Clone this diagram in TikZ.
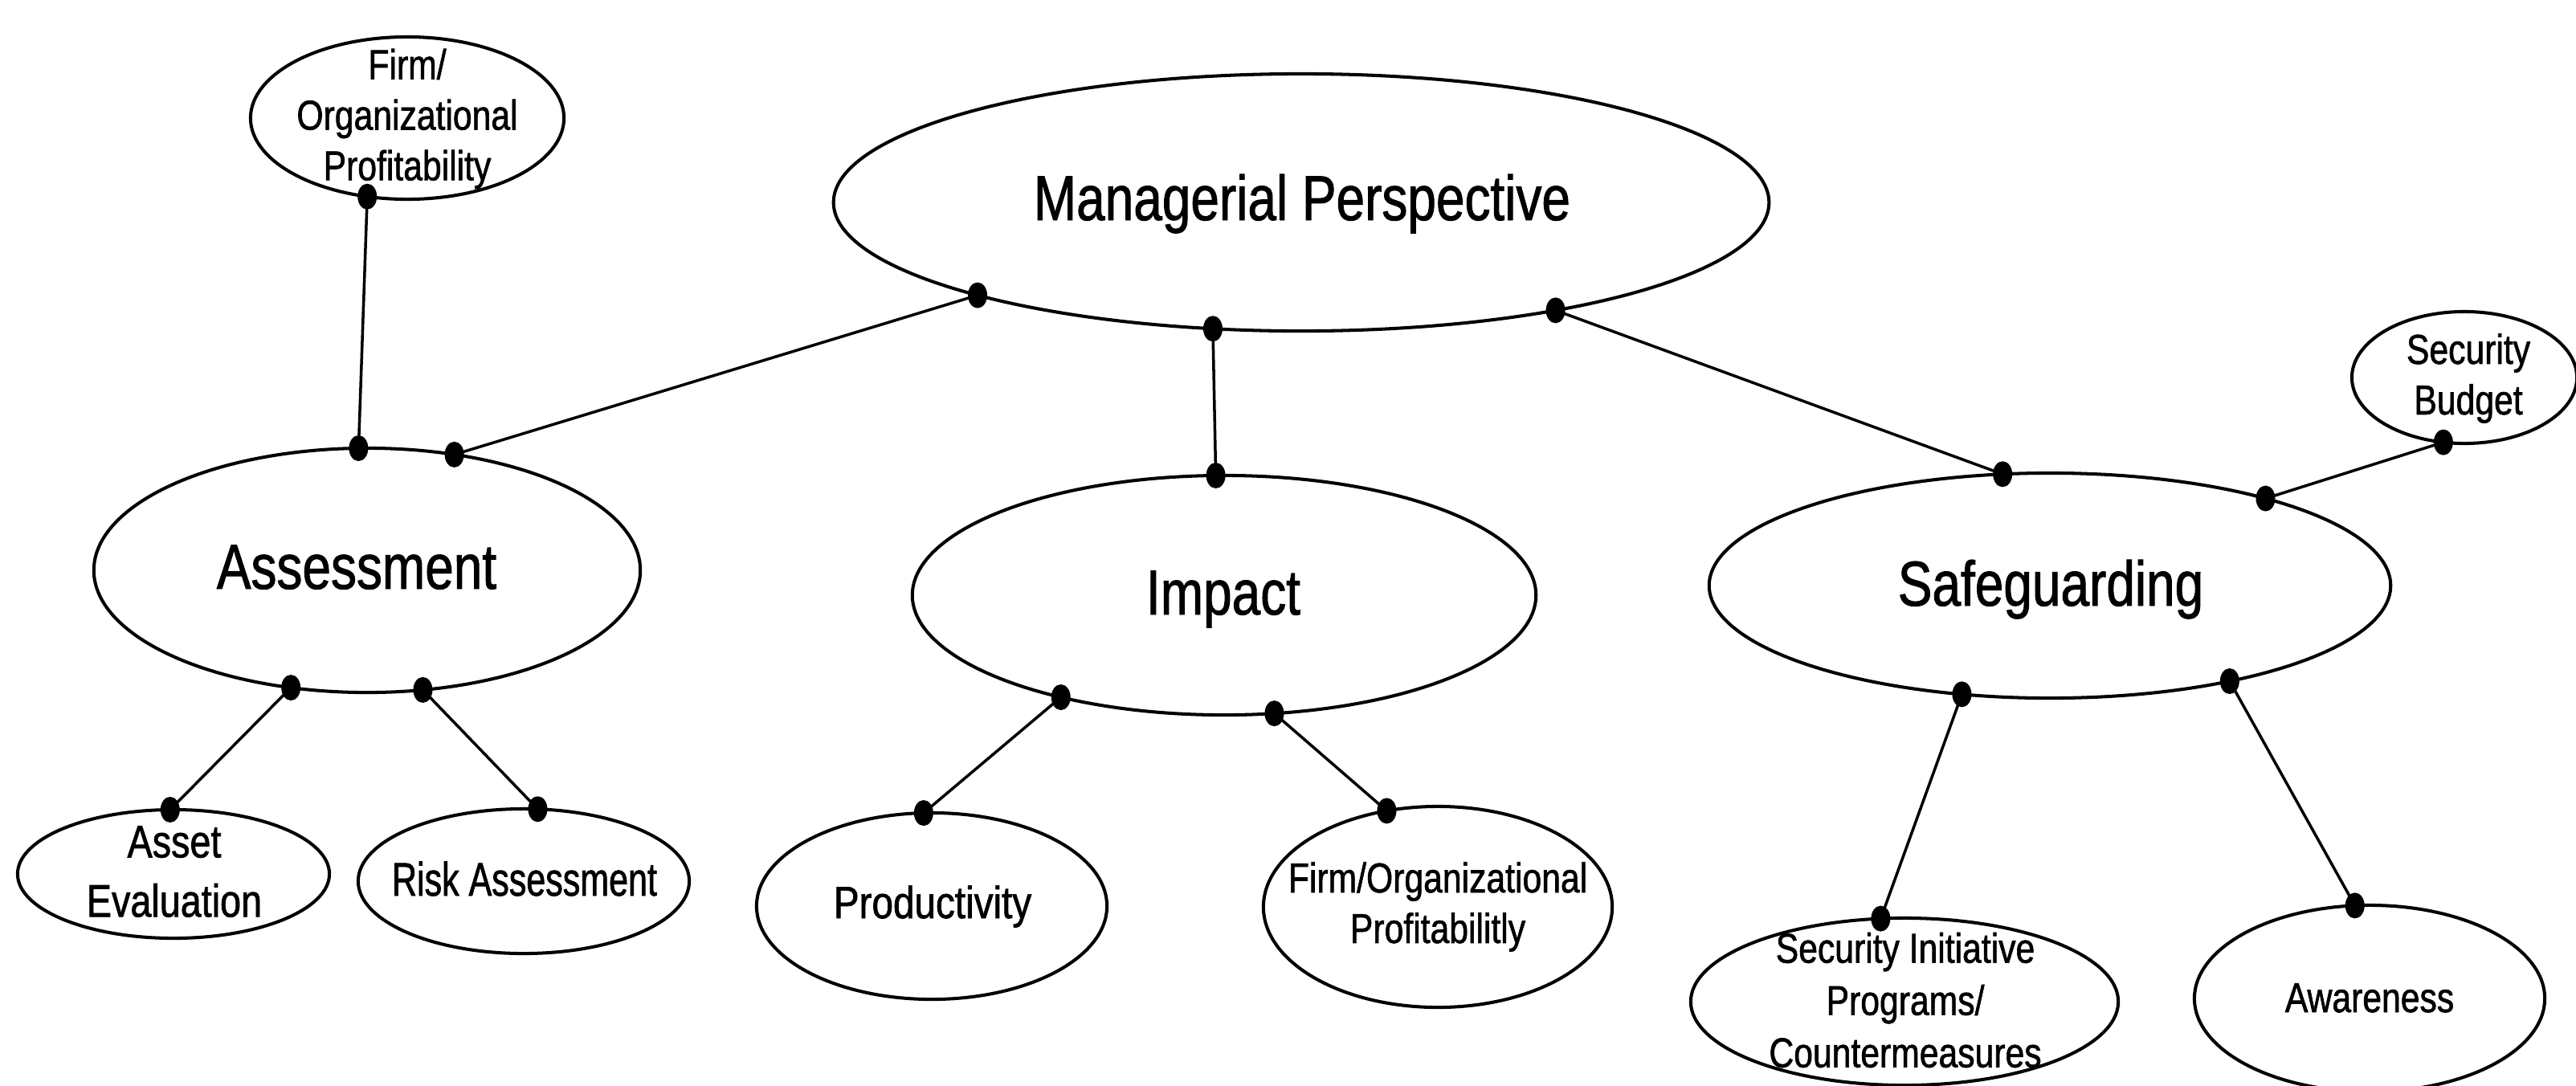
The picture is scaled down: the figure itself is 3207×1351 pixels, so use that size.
\documentclass[tikz,border=0pt]{standalone}
\usepackage{fontspec}
\setmainfont{Liberation Sans}[FakeStretch=0.82]
% narrow sans faces at the widths used by the labels
\newfontfamily\narrowA{Liberation Sans}[FakeStretch=0.81, FakeBold=1.2]
\newfontfamily\narrowB{Liberation Sans}[FakeStretch=0.82, FakeBold=1.2]
\newfontfamily\narrowC{Liberation Sans}[FakeStretch=0.735, FakeBold=1.2]
\newfontfamily\narrowD{Liberation Sans}[FakeStretch=0.85, FakeBold=1.2]
\usetikzlibrary{shapes.geometric}
\begin{document}
\begin{tikzpicture}[x=0.01cm,y=-0.01cm,
  bubble/.style={draw, ellipse, line width=1.15pt, inner sep=0pt, outer sep=0pt},
  dot/.style={fill, ellipse, inner sep=0pt, outer sep=0pt, minimum width=0.24cm, minimum height=0.32cm},
  link/.style={line width=1.0pt},
  bigtxt/.style={font=\narrowA\fontsize{22.45pt}{26pt}\selectfont, inner sep=0pt, anchor=base},
  smalltxt/.style={font=\narrowB\fontsize{14.8pt}{17.9pt}\selectfont, align=center, inner sep=0pt},
  sectxt/.style={font=\narrowB\fontsize{14.8pt}{18.5pt}\selectfont, align=center, inner sep=0pt},
  risktxt/.style={font=\narrowC\fontsize{16.65pt}{20pt}\selectfont, inner sep=0pt, anchor=base},
  prodtxt/.style={font=\narrowD\fontsize{15.95pt}{20pt}\selectfont, inner sep=0pt, anchor=base},
  assettxt/.style={font=\narrowB\fontsize{16.2pt}{21.0pt}\selectfont, align=center, inner sep=0pt}]
\useasboundingbox (0,0) rectangle (3207,1351);

% concept bubbles
\node[bubble, minimum width=11.64cm, minimum height=3.20cm] (mp) at (1620,252) {};
\node[bubble, minimum width=3.90cm, minimum height=2.02cm] (fo) at (507,147) {};
\node[bubble, minimum width=6.80cm, minimum height=3.04cm] (as) at (457,710) {};
\node[bubble, minimum width=7.76cm, minimum height=2.98cm] (im) at (1524,741) {};
\node[bubble, minimum width=8.48cm, minimum height=2.80cm] (sg) at (2552,729) {};
\node[bubble, minimum width=2.80cm, minimum height=1.64cm] (sb) at (3068,470) {};
\node[bubble, minimum width=3.88cm, minimum height=1.60cm] (ae) at (216,1088) {};
\node[bubble, minimum width=4.12cm, minimum height=1.80cm] (ra) at (652,1097) {};
\node[bubble, minimum width=4.36cm, minimum height=2.32cm] (pr) at (1160,1128) {};
\node[bubble, minimum width=4.34cm, minimum height=2.50cm] (fp) at (1790,1129) {};
\node[bubble, minimum width=5.32cm, minimum height=2.08cm] (si) at (2371,1247) {};
\node[bubble, minimum width=4.36cm, minimum height=2.32cm] (aw) at (2950,1243) {};

% labels
\node[bigtxt] (mp-t) at (1621,274) {Managerial Perspective};
\node[bigtxt] (as-t) at (444,733) {Assessment};
\node[bigtxt] (im-t) at (1523,765) {Impact};
\node[bigtxt] (sg-t) at (2553,754) {Safeguarding};
\node[smalltxt] (fo-t) at (507,148) {Firm/\\Organizational\\Profitability};
\node[smalltxt] (sb-t) at (3073,471) {Security\\Budget};
\node[assettxt] (ae-t) at (217,1085) {Asset\\Evaluation};
\node[risktxt] (ra-t) at (653,1115) {Risk Assessment};
\node[prodtxt] (pr-t) at (1161,1143) {Productivity};
\node[smalltxt] (fp-t) at (1790,1129) {Firm/Organizational\\Profitabilitly};
\node[sectxt] (si-t) at (2372,1245) {Security Initiative\\Programs/\\Countermeasures};
\node[smalltxt, anchor=base] (aw-t) at (2950,1260) {Awareness};

% connection points on the bubble borders
\node[dot] (fo-d) at (fo.243.9) {};
\node[dot] (as-a) at (as.94.1) {};
\node[dot] (as-b) at (as.53.1) {};
\node[dot] (as-c) at (as.237.3) {};
\node[dot] (as-d) at (as.295) {};
\node[dot] (mp-a) at (mp.196.4) {};
\node[dot] (mp-b) at (mp.235.6) {};
\node[dot] (mp-c) at (mp.337.4) {};
\node[dot] (im-a) at (im.94.5) {};
\node[dot] (im-b) at (im.212.2) {};
\node[dot] (im-c) at (im.293.8) {};
\node[dot] (sg-a) at (sg.113.5) {};
\node[dot] (sg-b) at (sg.22.5) {};
\node[dot] (sg-c) at (sg.231.6) {};
\node[dot] (sg-d) at (sg.332.4) {};
\node[dot] (sb-d) at (sb.252.4) {};
\node[dot] (ae-d) at (ae.93) {};
\node[dot] (ra-d) at (ra.79.9) {};
\node[dot] (pr-d) at (pr.95.4) {};
\node[dot] (fp-d) at (fp.118.1) {};
\node[dot] (si-d) at (si.106.8) {};
\node[dot] (aw-d) at (aw.99) {};

% links
\draw[link] (fo-d.center) -- (as-a.center);
\draw[link] (mp-a.center) -- (as-b.center);
\draw[link] (mp-b.center) -- (im-a.center);
\draw[link] (mp-c.center) -- (sg-a.center);
\draw[link] (sb-d.center) -- (sg-b.center);
\draw[link] (as-c.center) -- (ae-d.center);
\draw[link] (as-d.center) -- (ra-d.center);
\draw[link] (im-b.center) -- (pr-d.center);
\draw[link] (im-c.center) -- (fp-d.center);
\draw[link] (sg-c.center) -- (si-d.center);
\draw[link] (sg-d.center) -- (aw-d.center);
\end{tikzpicture}
\end{document}
